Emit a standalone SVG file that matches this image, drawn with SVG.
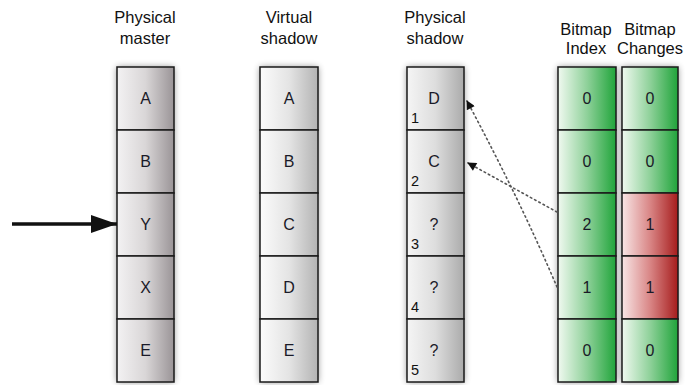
<svg xmlns="http://www.w3.org/2000/svg" width="685" height="385" viewBox="0 0 685 385">
<style>
.lbl{font-family:"Liberation Sans",Arial,sans-serif;font-size:16.5px;fill:#111;text-anchor:middle}
.cell{stroke:#1a1a1a;stroke-width:1.5}
.t{font-family:"Liberation Sans",Arial,sans-serif;font-size:16px;fill:#1a1a28;text-anchor:middle}
.n{font-family:"Liberation Sans",Arial,sans-serif;font-size:14.5px;fill:#111}
.dot{fill:none;stroke:#555;stroke-width:1.6;stroke-dasharray:1.6 3.2;stroke-linecap:round}
</style>
<defs>
<linearGradient id="gm" x1="0" y1="0" x2="1" y2="0"><stop offset="0" stop-color="#f3f2f3"/><stop offset="0.5" stop-color="#d9d6d7"/><stop offset="1" stop-color="#9a9497"/></linearGradient>
<linearGradient id="gv" x1="0" y1="0" x2="1" y2="0"><stop offset="0" stop-color="#fbfbfb"/><stop offset="0.5" stop-color="#e4e4e4"/><stop offset="1" stop-color="#b3b3b3"/></linearGradient>
<linearGradient id="gs" x1="0" y1="0" x2="1" y2="0"><stop offset="0" stop-color="#f5f5f5"/><stop offset="0.5" stop-color="#dddddd"/><stop offset="1" stop-color="#ababab"/></linearGradient>
<linearGradient id="gg" x1="0" y1="0" x2="1" y2="0"><stop offset="0" stop-color="#f0f9f0"/><stop offset="0.5" stop-color="#8fd19a"/><stop offset="1" stop-color="#20a43a"/></linearGradient>
<linearGradient id="gr" x1="0" y1="0" x2="1" y2="0"><stop offset="0" stop-color="#f8e6e6"/><stop offset="0.5" stop-color="#d98686"/><stop offset="1" stop-color="#a61c1c"/></linearGradient>
<filter id="sh" x="-30%" y="-10%" width="160%" height="120%"><feGaussianBlur stdDeviation="3.5"/></filter>
<marker id="ah" viewBox="0 0 10 10" refX="9" refY="5" markerWidth="10" markerHeight="9" markerUnits="userSpaceOnUse" orient="auto"><path d="M0,0 L10,5 L0,10 z" fill="#111"/></marker>
<marker id="big" viewBox="0 0 10 10" refX="10" refY="5" markerWidth="26" markerHeight="18" markerUnits="userSpaceOnUse" orient="auto" preserveAspectRatio="none"><path d="M0,0 L10,5 L0,10 z" fill="#111"/></marker>
</defs>

<g id="shadows" fill="#000" opacity="0.45" filter="url(#sh)">
<rect x="117" y="67" width="57" height="315"/>
<rect x="260" y="67" width="58" height="315"/>
<rect x="407" y="67" width="57" height="315"/>
<rect x="558" y="67" width="58" height="315"/>
<rect x="622" y="67" width="56" height="315"/>
</g>

<g id="labels">
<text class="lbl" x="145" y="23">Physical</text><text class="lbl" x="145" y="44">master</text>
<text class="lbl" x="289" y="23">Virtual</text><text class="lbl" x="289" y="44">shadow</text>
<text class="lbl" x="435" y="23">Physical</text><text class="lbl" x="435" y="44">shadow</text>
<text class="lbl" x="586" y="35">Bitmap</text><text class="lbl" x="586" y="54">Index</text>
<text class="lbl" x="650" y="35">Bitmap</text><text class="lbl" x="650" y="54">Changes</text>
</g>

<g id="physical-master">
<g id="pm-1"><rect class="cell" x="117" y="67" width="57" height="63" fill="url(#gm)"/><text class="t" x="145.5" y="104">A</text></g>
<g id="pm-2"><rect class="cell" x="117" y="130" width="57" height="63" fill="url(#gm)"/><text class="t" x="145.5" y="167">B</text></g>
<g id="pm-3"><rect class="cell" x="117" y="193" width="57" height="63" fill="url(#gm)"/><text class="t" x="145.5" y="230">Y</text></g>
<g id="pm-4"><rect class="cell" x="117" y="256" width="57" height="63" fill="url(#gm)"/><text class="t" x="145.5" y="293">X</text></g>
<g id="pm-5"><rect class="cell" x="117" y="319" width="57" height="63" fill="url(#gm)"/><text class="t" x="145.5" y="356">E</text></g>
</g>

<g id="virtual-shadow">
<g id="vs-1"><rect class="cell" x="260" y="67" width="58" height="63" fill="url(#gv)"/><text class="t" x="289" y="104">A</text></g>
<g id="vs-2"><rect class="cell" x="260" y="130" width="58" height="63" fill="url(#gv)"/><text class="t" x="289" y="167">B</text></g>
<g id="vs-3"><rect class="cell" x="260" y="193" width="58" height="63" fill="url(#gv)"/><text class="t" x="289" y="230">C</text></g>
<g id="vs-4"><rect class="cell" x="260" y="256" width="58" height="63" fill="url(#gv)"/><text class="t" x="289" y="293">D</text></g>
<g id="vs-5"><rect class="cell" x="260" y="319" width="58" height="63" fill="url(#gv)"/><text class="t" x="289" y="356">E</text></g>
</g>

<g id="physical-shadow">
<g id="ps-1"><rect class="cell" x="407" y="67" width="57" height="63" fill="url(#gs)"/><text class="t" x="434" y="104">D</text><text class="n" x="411" y="123">1</text></g>
<g id="ps-2"><rect class="cell" x="407" y="130" width="57" height="63" fill="url(#gs)"/><text class="t" x="434" y="167">C</text><text class="n" x="411" y="186">2</text></g>
<g id="ps-3"><rect class="cell" x="407" y="193" width="57" height="63" fill="url(#gs)"/><text class="t" x="434" y="230">?</text><text class="n" x="411" y="249">3</text></g>
<g id="ps-4"><rect class="cell" x="407" y="256" width="57" height="63" fill="url(#gs)"/><text class="t" x="434" y="293">?</text><text class="n" x="411" y="312">4</text></g>
<g id="ps-5"><rect class="cell" x="407" y="319" width="57" height="63" fill="url(#gs)"/><text class="t" x="434" y="356">?</text><text class="n" x="411" y="375">5</text></g>
</g>

<g id="bitmap-index">
<g id="bi-1"><rect class="cell" x="558" y="67" width="58" height="63" fill="url(#gg)"/><text class="t" x="587" y="104">0</text></g>
<g id="bi-2"><rect class="cell" x="558" y="130" width="58" height="63" fill="url(#gg)"/><text class="t" x="587" y="167">0</text></g>
<g id="bi-3"><rect class="cell" x="558" y="193" width="58" height="63" fill="url(#gg)"/><text class="t" x="587" y="230">2</text></g>
<g id="bi-4"><rect class="cell" x="558" y="256" width="58" height="63" fill="url(#gg)"/><text class="t" x="587" y="293">1</text></g>
<g id="bi-5"><rect class="cell" x="558" y="319" width="58" height="63" fill="url(#gg)"/><text class="t" x="587" y="356">0</text></g>
</g>

<g id="bitmap-changes">
<g id="bc-1"><rect class="cell" x="622" y="67" width="56" height="63" fill="url(#gg)"/><text class="t" x="650" y="104">0</text></g>
<g id="bc-2"><rect class="cell" x="622" y="130" width="56" height="63" fill="url(#gg)"/><text class="t" x="650" y="167">0</text></g>
<g id="bc-3"><rect class="cell" x="622" y="193" width="56" height="63" fill="url(#gr)"/><text class="t" x="650" y="230">1</text></g>
<g id="bc-4"><rect class="cell" x="622" y="256" width="56" height="63" fill="url(#gr)"/><text class="t" x="650" y="293">1</text></g>
<g id="bc-5"><rect class="cell" x="622" y="319" width="56" height="63" fill="url(#gg)"/><text class="t" x="650" y="356">0</text></g>
</g>

<g id="connectors">
<line x1="12" y1="224" x2="117" y2="224" stroke="#111" stroke-width="3.5" marker-end="url(#big)"/>
<path class="dot" d="M557,212 L468,163" marker-end="url(#ah)"/>
<path class="dot" d="M557,287 Q520,200 467,101" marker-end="url(#ah)"/>
</g>
</svg>
